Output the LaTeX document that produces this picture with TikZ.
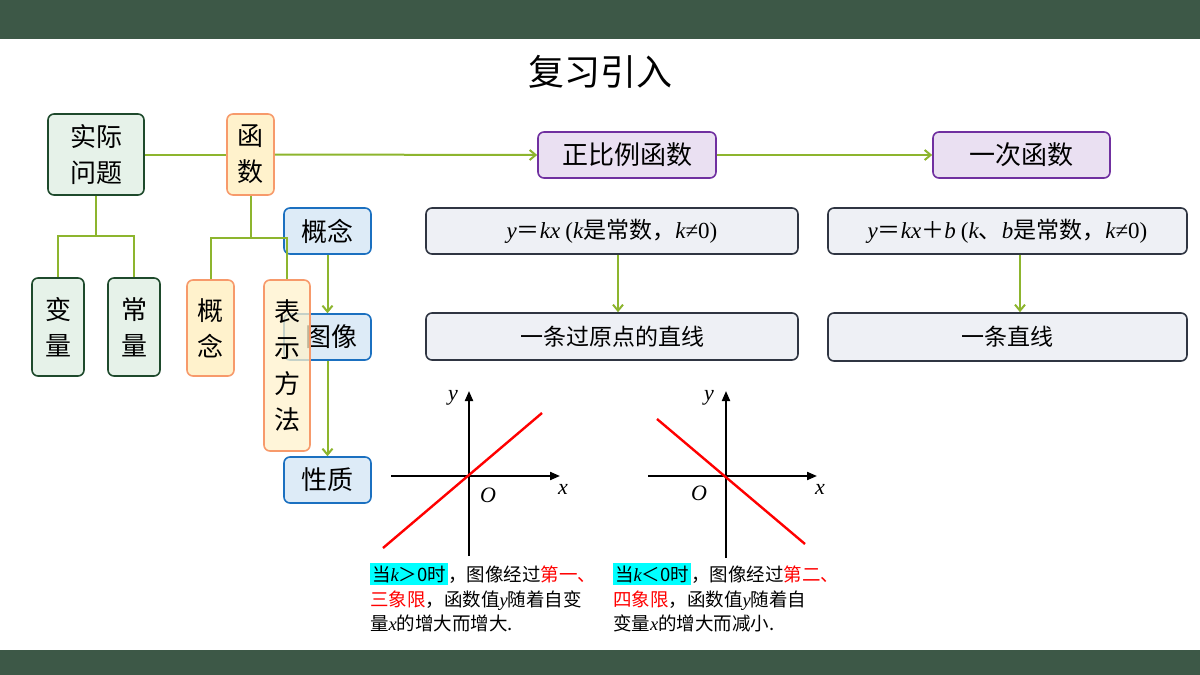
\documentclass[tikz,border=0pt]{standalone}
\usepackage{fontspec}
\setmainfont{Noto Sans CJK SC}
\newfontfamily\latfont{Liberation Serif}
\newcommand\vi[1]{{\latfont\itshape #1}}
\newcommand\vr[1]{{\latfont #1}}
\usetikzlibrary{arrows.meta,positioning}

\definecolor{barcol}{HTML}{3D5847}
\definecolor{linkcol}{HTML}{8DB52E}
\definecolor{grnfill}{HTML}{E6F2E9}
\definecolor{grndraw}{HTML}{1E4A2C}
\definecolor{orgfill}{HTML}{FFF2CC}
\definecolor{orgdraw}{HTML}{F79A6B}
\definecolor{bluefill}{HTML}{DDEBF7}
\definecolor{bluedraw}{HTML}{1B70C0}
\definecolor{purfill}{HTML}{EAE0F2}
\definecolor{purdraw}{HTML}{7030A0}
\definecolor{gryfill}{HTML}{EEF0F5}
\definecolor{grydraw}{HTML}{2F3542}
\definecolor{hlcol}{HTML}{00FFFF}

\tikzset{
  box/.style={rounded corners=6pt, line width=1.6pt, inner sep=0pt, align=center,
    font=\fontsize{26}{36}\selectfont},
  grnbox/.style={box, draw=grndraw, fill=grnfill},
  orgbox/.style={box, draw=orgdraw, fill=orgfill},
  bluebox/.style={box, draw=bluedraw, fill=bluefill},
  purbox/.style={box, draw=purdraw, fill=purfill},
  grybox/.style={box, draw=grydraw, fill=gryfill, font=\fontsize{23}{26}\selectfont},
  link/.style={draw=linkcol, line width=2pt},
  linkarr/.style={link, -{Straight Barb[length=6pt,width=10pt]}},
  axis/.style={line width=2pt, -{Triangle[length=10pt,width=8pt]}},
  graph/.style={red, line width=2.4pt},
  lbl/.style={font=\fontsize{22}{24}\selectfont\latfont\itshape},
  note/.style={anchor=base west, inner sep=0pt, font=\fontsize{18.5}{20}\selectfont},
}

\begin{document}
\begin{tikzpicture}[x=1pt,y=-1pt]
  % Rahmen und Titel
  \useasboundingbox (0,0) rectangle (1200,675);
  \fill[barcol] (0,0) rectangle (1200,39);
  \fill[barcol] (0,650) rectangle (1200,675);
  \node[font=\fontsize{36}{40}\selectfont] (title) at (600,72) {复习引入};

  % linker Baum
  \node[grnbox, minimum width=96pt, minimum height=81pt] (shiji) at (96,154.5) {实际\\问题};
  \node[orgbox, minimum width=47pt, minimum height=81pt] (hanshu) at (250.5,154.5) {函\\数};
  \node[grnbox, minimum width=52pt, minimum height=98pt] (bianliang) at (58,327) {变\\量};
  \node[grnbox, minimum width=52pt, minimum height=98pt] (changliang) at (134,327) {常\\量};
  \node[orgbox, minimum width=47pt, minimum height=96pt] (gainianA) at (210.5,328) {概\\念};

  \node[bluebox, minimum width=87pt, minimum height=46pt] (gainianB) at (327.5,231) {概念};
  \node[bluebox, minimum width=87pt, minimum height=46pt] (tuxiang) at (327.5,337) {\hspace*{8pt}图像};
  \node[bluebox, minimum width=87pt, minimum height=46pt] (xingzhi) at (327.5,480) {性质};
  \node[orgbox, fill opacity=0.75, text opacity=1, minimum width=46pt, minimum height=171pt]
    (biaoshi) at (287,365.5) {表\\示\\方\\法};

  \coordinate (forkA) at (95,236);
  \coordinate (forkB) at (249,238);
  \draw[link] (shiji.south) -- (shiji.south |- forkA);
  \draw[link] (bianliang.north) |- (forkA) -| (changliang.north);
  \draw[link] (hanshu.south) -- (hanshu.south |- forkB);
  \draw[link] (gainianA.north) |- (forkB) -| (biaoshi.north);
  \draw[link] (shiji.east) -- (hanshu.west);
  \draw[linkarr] (gainianB.south) -- (tuxiang.north);
  \draw[linkarr] (tuxiang.south) -- (xingzhi.north);

  % rechte Seite
  \node[purbox, minimum width=178pt, minimum height=46pt] (zbl) at (627,155) {正比例函数};
  \node[purbox, minimum width=177pt, minimum height=46pt] (yici) at (1021.5,155) {一次函数};
  \node[grybox, minimum width=372pt, minimum height=46pt] (fA) at (612,231)
    {\vi{y}＝\vi{kx} \vr{(}\vi{k}是常数，\vi{k}\vr{≠0)}};
  \node[grybox, minimum width=372pt, minimum height=47pt] (lineA) at (612,336.5) {一条过原点的直线};
  \node[grybox, minimum width=359pt, minimum height=46pt] (fB) at (1007.5,231)
    {\vi{y}＝\vi{kx}＋\vi{b} \vr{(}\vi{k}、\vi{b}是常数，\vi{k}\vr{≠0)}};
  \node[grybox, minimum width=359pt, minimum height=48pt] (lineB) at (1007.5,337) {一条直线};

  \draw[linkarr] (hanshu.east) -- (zbl.west);
  \draw[linkarr] (zbl.east) -- (yici.west);
  \draw[linkarr] ([xshift=6pt]fA.south) -- ([xshift=6pt]lineA.north);
  \draw[linkarr] ([xshift=12.5pt]fB.south) -- ([xshift=12.5pt]lineB.north);

  % Graph k>0
  \draw[axis] (391,476) -- (560,476);
  \draw[axis] (469,556) -- (469,391);
  \draw[graph] (383,548) -- (542,413);
  \node[lbl] (yA) at (453,398) {y};
  \node[lbl] (xA) at (563,489) {x};
  \node[lbl] (oA) at (488,495) {O};

  % Graph k<0
  \draw[axis] (648,476) -- (817,476);
  \draw[axis] (726,558) -- (726,391);
  \draw[graph] (657,419) -- (805,544);
  \node[lbl] (yB) at (709,398) {y};
  \node[lbl] (xB) at (820,489) {x};
  \node[lbl] (oB) at (699,493) {O};

  % Erläuterungen
  \node[note] (nA1) at (370,581) {\setlength{\fboxsep}{2pt}\colorbox{hlcol}{当\vi{k}＞0时}，图像经过\textcolor{red}{第一、}};
  \node[note] (nA2) at (370,606) {\textcolor{red}{三象限}，函数值\vi{y}随着自变};
  \node[note] (nA3) at (370,630) {量\vi{x}的增大而增大.};
  \node[note] (nB1) at (613,581) {\setlength{\fboxsep}{2pt}\colorbox{hlcol}{当\vi{k}＜0时}，图像经过\textcolor{red}{第二、}};
  \node[note] (nB2) at (613,606) {\textcolor{red}{四象限}，函数值\vi{y}随着自};
  \node[note] (nB3) at (613,630) {变量\vi{x}的增大而减小.};
\end{tikzpicture}
\end{document}
